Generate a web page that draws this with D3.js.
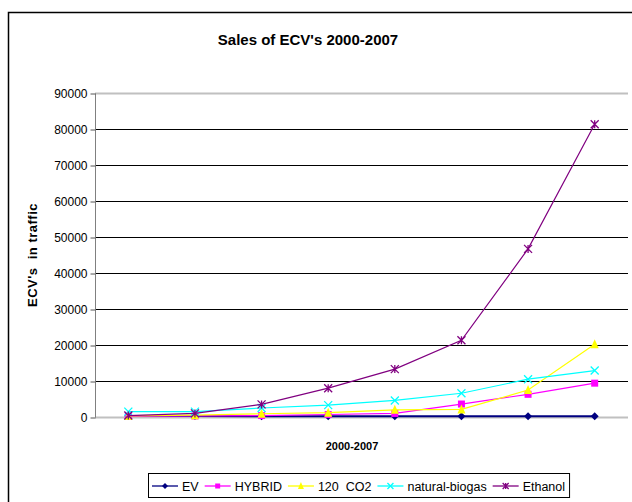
<!DOCTYPE html>
<html lang="en">
<head>
  <meta charset="UTF-8">
  <title>Sales of ECV's 2000-2007</title>
  <script src="https://d3js.org/d3.v7.min.js"></script>
  <style>
    body { margin: 0; background: white; }
    svg { display: block; font-family: "Liberation Sans", Arial, sans-serif; }
    svg text { white-space: pre; }
  </style>
</head>
<body>
  <div id="chart"></div>
  <script>
    // data
    const years = ["2000", "2001", "2002", "2003", "2004", "2005", "2006", "2007"];
    const ev      = [250, 250, 200, 200, 200, 200, 200, 200];
    const hybrid  = [200, 300, 400, 700, 1000, 3600, 6300, 9400];
    const co2     = [300, 500, 900, 1200, 2000, 2100, 7500, 20200];
    const biogas  = [1500, 1500, 2500, 3300, 4600, 6600, 10500, 12900];
    const ethanol = [400, 1000, 3500, 8000, 13300, 21300, 46700, 81300];
    const yTicks  = [0, 10000, 20000, 30000, 40000, 50000, 60000, 70000, 80000, 90000];

    const series = [
      { name: "EV", values: ev, color: "#000080", marker: "diamond" },
      { name: "HYBRID", values: hybrid, color: "#FF00FF", marker: "square" },
      { name: "120  CO2", values: co2, color: "#FFFF00", marker: "triangle" },
      { name: "natural-biogas", values: biogas, color: "#00FFFF", marker: "x" },
      { name: "Ethanol", values: ethanol, color: "#800080", marker: "star" }
    ];

    const W = 632, H = 502;
    const plot = { left: 95, right: 628, top: 93, bottom: 417 };

    const svg = d3.select("#chart").append("svg")
      .attr("width", W).attr("height", H);

    // outer chart frame (runs off the right and bottom of the picture)
    svg.append("rect")
      .attr("x", 8.5).attr("y", 12.5)
      .attr("width", 700).attr("height", 600)
      .attr("fill", "white").attr("stroke", "#000").attr("stroke-width", 1.5);

    const x = d3.scaleBand().domain(years).range([plot.left, plot.right]);
    const y = d3.scaleLinear().domain([0, 90000]).range([plot.bottom, plot.top]);

    // gridlines
    svg.append("g").selectAll("line")
      .data(yTicks.filter(d => d > 0))
      .enter().append("line")
      .attr("x1", plot.left).attr("x2", plot.right)
      .attr("y1", d => Math.round(y(d)) + 0.5).attr("y2", d => Math.round(y(d)) + 0.5)
      .attr("stroke", d => d === 90000 ? "#c0c0c0" : "#000")
      .attr("stroke-width", d => d === 90000 ? 2 : 1);

    // x axis base line
    svg.append("line")
      .attr("x1", plot.left).attr("x2", plot.right)
      .attr("y1", plot.bottom + 0.5).attr("y2", plot.bottom + 0.5)
      .attr("stroke", "#c0c0c0").attr("stroke-width", 2);

    // y axis
    const yAxis = svg.append("g")
      .attr("transform", `translate(${plot.left + 0.5},0.5)`)
      .call(d3.axisLeft(y).tickValues(yTicks).tickFormat(d3.format("d")).tickSize(5).tickPadding(3));
    yAxis.select(".domain").attr("stroke", "#808080").attr("d", `M0,${plot.top}V${plot.bottom}`);
    yAxis.selectAll(".tick line").attr("stroke", "#555");
    yAxis.selectAll("text").attr("font-size", 12).attr("fill", "#000")
      .attr("font-family", "'Liberation Sans', Arial, sans-serif");

    // titles
    svg.append("text").attr("x", 308).attr("y", 45).attr("text-anchor", "middle")
      .attr("font-size", 15).attr("font-weight", "bold").text("Sales of ECV's 2000-2007");
    svg.append("text").attr("x", 352).attr("y", 450).attr("text-anchor", "middle")
      .attr("font-size", 11).attr("font-weight", "bold").text("2000-2007");
    svg.append("text").attr("transform", "translate(37,255) rotate(-90)").attr("text-anchor", "middle")
      .attr("font-size", 13).attr("font-weight", "bold").attr("letter-spacing", 0.5)
      .text("ECV's  in traffic");

    function drawMarker(g, type, color, size) {
      const s = size;
      if (type === "diamond") {
        g.append("path").attr("d", `M0,${-s}L${s},0L0,${s}L${-s},0Z`).attr("fill", color);
      } else if (type === "square") {
        g.append("rect").attr("x", -s + 0.5).attr("y", -s + 0.5).attr("width", 2 * s - 1).attr("height", 2 * s - 1).attr("fill", color);
      } else if (type === "triangle") {
        g.append("path").attr("d", `M0,${-s - 1}L${s},${s}L${-s},${s}Z`).attr("fill", color);
      } else if (type === "x") {
        g.append("path").attr("d", `M${-s},${-s}L${s},${s}M${-s},${s}L${s},${-s}`)
          .attr("stroke", color).attr("stroke-width", 1.3);
      } else {
        g.append("path").attr("d", `M${-s},${-s}L${s},${s}M${-s},${s}L${s},${-s}M0,${-s}V${s}`)
          .attr("stroke", color).attr("stroke-width", 1.3);
      }
    }

    const line = d3.line()
      .x((d, i) => x(years[i]) + x.bandwidth() / 2)
      .y(d => y(d));

    series.forEach(s => {
      svg.append("path").datum(s.values)
        .attr("d", line).attr("fill", "none")
        .attr("stroke", s.color).attr("stroke-width", s.name === "EV" ? 2 : 1.2);
      s.values.forEach((v, i) => {
        const g = svg.append("g")
          .attr("transform", `translate(${x(years[i]) + x.bandwidth() / 2},${y(v)})`);
        drawMarker(g, s.marker, s.color, 4);
      });
    });

    // legend
    const legend = svg.append("g");
    const box = legend.append("rect")
      .attr("x", 148.5).attr("y", 473.5).attr("height", 24)
      .attr("fill", "white").attr("stroke", "#000");
    let lx = 152;
    const ly = 486;
    series.forEach(s => {
      legend.append("line").attr("x1", lx).attr("x2", lx + 26)
        .attr("y1", ly).attr("y2", ly).attr("stroke", s.color).attr("stroke-width", 1.3);
      const g = legend.append("g").attr("transform", `translate(${lx + 13},${ly})`);
      drawMarker(g, s.marker, s.color, 3);
      const t = legend.append("text").attr("x", lx + 30).attr("y", ly + 5)
        .attr("font-size", 12.5).text(s.name);
      lx += 30 + t.node().getComputedTextLength() + 6;
    });
    box.attr("width", lx - 148 - 2);
  </script>
</body>
</html>
